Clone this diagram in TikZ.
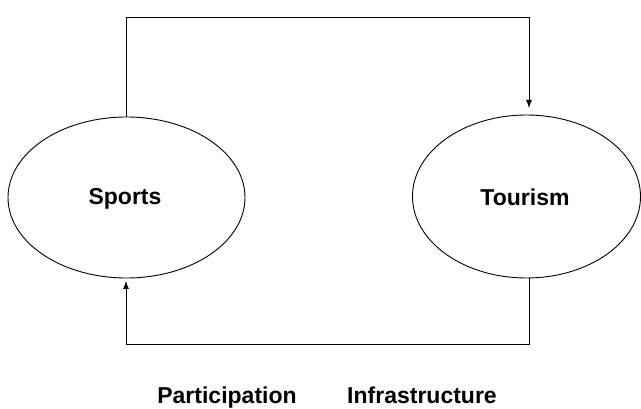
\documentclass[tikz,border=0pt]{standalone}
\usepackage{fontspec}
\setmainfont{Liberation Sans}
\usetikzlibrary{shapes.geometric,arrows.meta}
\begin{document}
\begin{tikzpicture}[x=1pt,y=-1pt,
  circ/.style={draw, line width=0.9pt, ellipse, inner sep=0pt},
  lbl/.style={font=\fontsize{23}{27}\selectfont\bfseries, inner sep=0pt, anchor=base},
  conn/.style={draw, line width=0.9pt},
  tip/.style={-{Latex[length=8pt,width=6pt]}}]
\useasboundingbox (0,0) rectangle (641,409);
\node[circ, minimum width=237pt, minimum height=161pt] (sports) at (126.5,197.5) {};
\node[circ, minimum width=228pt, minimum height=163pt] (tourism) at (526.5,196.5) {};
\node[lbl] (sportsL) at (125,205) {Sports};
\node[lbl] (tourismL) at (525,206) {Tourism};
\node[lbl] (part) at (227,403) {Participation};
\node[lbl] (infra) at (422,403) {Infrastructure};
\coordinate (tl) at (126,17);
\coordinate (tr) at (529,17);
\coordinate (bl) at (126,344);
\coordinate (br) at (529,344);
\coordinate (downEnd) at (529,108);
\coordinate (upEnd) at (126,281);
\draw[conn, tip] (sports.north -| tl) -- (tl) -- (tr) -- (downEnd);
\draw[conn, tip] (tourism.south -| br) -- (br) -- (bl) -- (upEnd);
\end{tikzpicture}
\end{document}
